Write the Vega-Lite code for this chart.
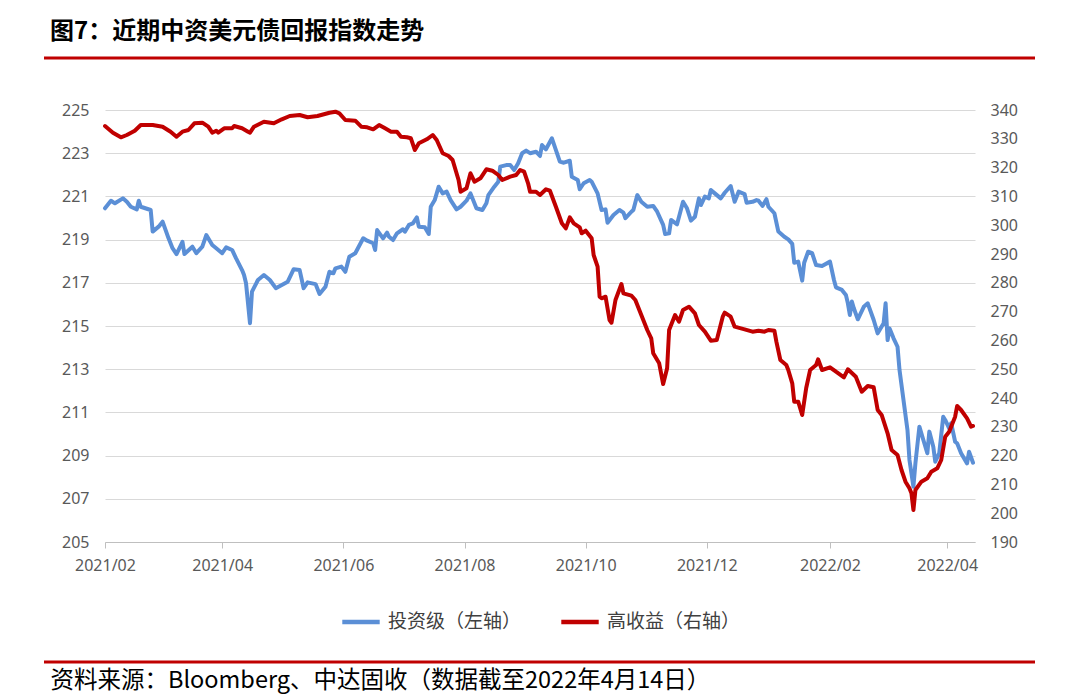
{
  "$schema": "https://vega.github.io/schema/vega-lite/v6.json",
  "width": 870,
  "height": 432,
  "autosize": "none",
  "padding": {"left": 105, "top": 110, "right": 105, "bottom": 154},
  "background": "#ffffff",
  "title": {
    "text": "图7：近期中资美元债回报指数走势",
    "anchor": "start",
    "frame": "group",
    "dx": -55,
    "offset": 13,
    "font": "Noto Sans CJK SC",
    "fontSize": 24,
    "fontWeight": "bold",
    "color": "#000000"
  },
  "datasets": {
    "ig": [
      {"d":"2021-02-01","v":220.45},{"d":"2021-02-04","v":220.80},{"d":"2021-02-06","v":220.68},{"d":"2021-02-10","v":220.91},{"d":"2021-02-12","v":220.75},{"d":"2021-02-14","v":220.52},{"d":"2021-02-17","v":220.40},{"d":"2021-02-18","v":220.80},{"d":"2021-02-19","v":220.52},{"d":"2021-02-24","v":220.37},{"d":"2021-02-25","v":219.37},{"d":"2021-02-28","v":219.60},
      {"d":"2021-03-02","v":219.83},{"d":"2021-03-05","v":219.06},{"d":"2021-03-07","v":218.60},{"d":"2021-03-09","v":218.33},{"d":"2021-03-12","v":218.90},{"d":"2021-03-13","v":218.33},{"d":"2021-03-17","v":218.67},{"d":"2021-03-19","v":218.37},{"d":"2021-03-22","v":218.67},{"d":"2021-03-24","v":219.21},{"d":"2021-03-27","v":218.75},{"d":"2021-03-29","v":218.60},
      {"d":"2021-04-01","v":218.37},{"d":"2021-04-03","v":218.64},{"d":"2021-04-06","v":218.52},{"d":"2021-04-08","v":218.13},{"d":"2021-04-11","v":217.59},{"d":"2021-04-12","v":217.36},{"d":"2021-04-13","v":216.98},{"d":"2021-04-15","v":215.13},{"d":"2021-04-16","v":216.59},{"d":"2021-04-19","v":217.13},{"d":"2021-04-22","v":217.36},{"d":"2021-04-25","v":217.13},{"d":"2021-04-28","v":216.75},
      {"d":"2021-05-01","v":216.90},{"d":"2021-05-04","v":217.05},{"d":"2021-05-07","v":217.63},{"d":"2021-05-10","v":217.59},{"d":"2021-05-12","v":216.75},{"d":"2021-05-14","v":217.02},{"d":"2021-05-18","v":216.94},{"d":"2021-05-20","v":216.48},{"d":"2021-05-23","v":216.82},{"d":"2021-05-25","v":217.51},{"d":"2021-05-27","v":217.44},{"d":"2021-05-28","v":217.67},{"d":"2021-05-31","v":217.75},
      {"d":"2021-06-02","v":217.51},{"d":"2021-06-04","v":218.21},{"d":"2021-06-07","v":218.37},{"d":"2021-06-11","v":219.06},{"d":"2021-06-13","v":218.95},{"d":"2021-06-16","v":218.83},{"d":"2021-06-17","v":218.52},{"d":"2021-06-18","v":219.44},{"d":"2021-06-21","v":219.06},{"d":"2021-06-23","v":219.32},{"d":"2021-06-24","v":219.13},{"d":"2021-06-26","v":218.98},{"d":"2021-06-28","v":219.29},
      {"d":"2021-07-01","v":219.48},{"d":"2021-07-02","v":219.37},{"d":"2021-07-04","v":219.68},{"d":"2021-07-06","v":219.75},{"d":"2021-07-08","v":220.03},{"d":"2021-07-09","v":219.60},{"d":"2021-07-12","v":219.57},{"d":"2021-07-14","v":219.26},{"d":"2021-07-15","v":220.52},{"d":"2021-07-17","v":220.83},{"d":"2021-07-19","v":221.45},{"d":"2021-07-21","v":221.14},{"d":"2021-07-23","v":221.22},{"d":"2021-07-25","v":220.83},{"d":"2021-07-28","v":220.40},{"d":"2021-07-30","v":220.52},
      {"d":"2021-08-02","v":220.80},{"d":"2021-08-04","v":221.14},{"d":"2021-08-07","v":220.45},{"d":"2021-08-10","v":220.37},{"d":"2021-08-12","v":220.68},{"d":"2021-08-13","v":221.06},{"d":"2021-08-16","v":221.45},{"d":"2021-08-18","v":221.68},{"d":"2021-08-19","v":222.38},{"d":"2021-08-22","v":222.45},{"d":"2021-08-24","v":222.45},{"d":"2021-08-26","v":222.22},{"d":"2021-08-28","v":222.53},{"d":"2021-08-30","v":223.00},
      {"d":"2021-09-01","v":223.12},{"d":"2021-09-03","v":223.00},{"d":"2021-09-06","v":223.07},{"d":"2021-09-08","v":222.87},{"d":"2021-09-09","v":223.38},{"d":"2021-09-11","v":223.18},{"d":"2021-09-14","v":223.69},{"d":"2021-09-18","v":222.61},{"d":"2021-09-20","v":222.56},{"d":"2021-09-23","v":222.65},{"d":"2021-09-24","v":221.91},{"d":"2021-09-27","v":221.76},{"d":"2021-09-28","v":221.33},{"d":"2021-09-30","v":221.61},
      {"d":"2021-10-03","v":221.76},{"d":"2021-10-04","v":221.68},{"d":"2021-10-07","v":221.14},{"d":"2021-10-09","v":220.37},{"d":"2021-10-11","v":220.40},{"d":"2021-10-12","v":219.78},{"d":"2021-10-15","v":220.14},{"d":"2021-10-18","v":220.37},{"d":"2021-10-20","v":220.25},{"d":"2021-10-21","v":219.99},{"d":"2021-10-24","v":220.29},{"d":"2021-10-25","v":220.37},{"d":"2021-10-27","v":221.06},{"d":"2021-10-29","v":220.75},
      {"d":"2021-11-01","v":220.52},{"d":"2021-11-04","v":220.56},{"d":"2021-11-06","v":220.29},{"d":"2021-11-09","v":219.68},{"d":"2021-11-10","v":219.26},{"d":"2021-11-12","v":219.29},{"d":"2021-11-13","v":219.91},{"d":"2021-11-16","v":219.71},{"d":"2021-11-19","v":220.75},{"d":"2021-11-21","v":220.45},{"d":"2021-11-23","v":219.88},{"d":"2021-11-25","v":220.06},{"d":"2021-11-27","v":220.91},{"d":"2021-11-28","v":220.60},{"d":"2021-11-30","v":220.99},
      {"d":"2021-12-02","v":220.91},{"d":"2021-12-03","v":221.30},{"d":"2021-12-05","v":221.14},{"d":"2021-12-08","v":220.91},{"d":"2021-12-10","v":221.17},{"d":"2021-12-13","v":221.48},{"d":"2021-12-15","v":220.75},{"d":"2021-12-17","v":221.22},{"d":"2021-12-20","v":221.11},{"d":"2021-12-21","v":220.71},{"d":"2021-12-24","v":220.75},{"d":"2021-12-26","v":220.83},{"d":"2021-12-27","v":220.80},{"d":"2021-12-29","v":220.56},{"d":"2021-12-31","v":220.87},
      {"d":"2022-01-01","v":220.52},{"d":"2022-01-04","v":220.22},{"d":"2022-01-06","v":219.37},{"d":"2022-01-09","v":219.13},{"d":"2022-01-11","v":219.01},{"d":"2022-01-13","v":218.80},{"d":"2022-01-14","v":217.93},{"d":"2022-01-16","v":217.98},{"d":"2022-01-18","v":217.10},{"d":"2022-01-19","v":217.93},{"d":"2022-01-21","v":218.44},{"d":"2022-01-23","v":218.37},{"d":"2022-01-25","v":217.82},{"d":"2022-01-28","v":217.78},
      {"d":"2022-02-01","v":217.98},{"d":"2022-02-03","v":217.13},{"d":"2022-02-04","v":216.79},{"d":"2022-02-07","v":216.67},{"d":"2022-02-09","v":216.44},{"d":"2022-02-10","v":216.05},{"d":"2022-02-11","v":215.51},{"d":"2022-02-12","v":216.13},{"d":"2022-02-13","v":215.82},{"d":"2022-02-15","v":215.31},{"d":"2022-02-18","v":215.89},{"d":"2022-02-20","v":216.05},{"d":"2022-02-23","v":215.28},{"d":"2022-02-25","v":214.66},{"d":"2022-02-28","v":215.13},
      {"d":"2022-03-01","v":216.05},{"d":"2022-03-02","v":214.35},{"d":"2022-03-03","v":214.89},{"d":"2022-03-05","v":214.43},{"d":"2022-03-07","v":214.04},{"d":"2022-03-08","v":212.96},{"d":"2022-03-10","v":211.57},{"d":"2022-03-12","v":210.19},{"d":"2022-03-13","v":208.80},{"d":"2022-03-15","v":207.56},{"d":"2022-03-16","v":208.64},{"d":"2022-03-18","v":210.34},{"d":"2022-03-20","v":209.72},{"d":"2022-03-22","v":209.11},{"d":"2022-03-23","v":210.11},{"d":"2022-03-25","v":209.41},{"d":"2022-03-26","v":208.72},{"d":"2022-03-28","v":209.11},{"d":"2022-03-30","v":210.80},{"d":"2022-03-31","v":210.65},
      {"d":"2022-04-02","v":210.26},{"d":"2022-04-03","v":210.50},{"d":"2022-04-05","v":209.64},{"d":"2022-04-06","v":209.57},{"d":"2022-04-08","v":209.11},{"d":"2022-04-11","v":208.64},{"d":"2022-04-12","v":209.18},{"d":"2022-04-14","v":208.67}
    ],
    "hy": [
      {"d":"2021-02-01","v":334.44},{"d":"2021-02-05","v":332.12},{"d":"2021-02-09","v":330.52},{"d":"2021-02-12","v":331.32},{"d":"2021-02-16","v":332.81},{"d":"2021-02-19","v":334.79},{"d":"2021-02-25","v":334.79},
      {"d":"2021-03-02","v":334.20},{"d":"2021-03-06","v":332.47},{"d":"2021-03-09","v":330.73},{"d":"2021-03-12","v":332.47},{"d":"2021-03-15","v":333.06},{"d":"2021-03-18","v":335.38},{"d":"2021-03-22","v":335.59},{"d":"2021-03-25","v":334.20},{"d":"2021-03-27","v":332.12},{"d":"2021-03-29","v":332.81},{"d":"2021-03-30","v":332.12},
      {"d":"2021-04-02","v":333.65},{"d":"2021-04-06","v":333.65},{"d":"2021-04-07","v":334.44},{"d":"2021-04-11","v":333.65},{"d":"2021-04-14","v":332.47},{"d":"2021-04-15","v":332.12},{"d":"2021-04-17","v":334.20},{"d":"2021-04-22","v":335.94},{"d":"2021-04-27","v":335.38},
      {"d":"2021-05-01","v":336.77},{"d":"2021-05-05","v":337.92},{"d":"2021-05-10","v":338.26},{"d":"2021-05-14","v":337.47},{"d":"2021-05-19","v":337.92},{"d":"2021-05-25","v":339.06},{"d":"2021-05-28","v":339.41},{"d":"2021-05-30","v":338.85},
      {"d":"2021-06-02","v":336.53},{"d":"2021-06-07","v":336.28},{"d":"2021-06-10","v":334.20},{"d":"2021-06-13","v":333.99},{"d":"2021-06-16","v":333.30},{"d":"2021-06-19","v":334.79},{"d":"2021-06-22","v":333.65},{"d":"2021-06-25","v":332.47},{"d":"2021-06-28","v":332.47},{"d":"2021-06-30","v":330.73},
      {"d":"2021-07-03","v":330.52},{"d":"2021-07-05","v":330.17},{"d":"2021-07-07","v":326.11},{"d":"2021-07-09","v":328.44},{"d":"2021-07-13","v":329.83},{"d":"2021-07-16","v":331.32},{"d":"2021-07-18","v":329.58},{"d":"2021-07-21","v":324.97},{"d":"2021-07-24","v":324.03},{"d":"2021-07-26","v":322.64},{"d":"2021-07-29","v":315.69},{"d":"2021-07-30","v":311.63},
      {"d":"2021-08-02","v":312.81},{"d":"2021-08-04","v":318.02},{"d":"2021-08-06","v":315.10},{"d":"2021-08-09","v":316.28},{"d":"2021-08-12","v":319.41},{"d":"2021-08-15","v":318.92},{"d":"2021-08-18","v":317.43},{"d":"2021-08-20","v":315.69},{"d":"2021-08-24","v":316.84},{"d":"2021-08-27","v":317.43},{"d":"2021-08-29","v":319.17},{"d":"2021-08-31","v":318.58},
      {"d":"2021-09-02","v":314.55},{"d":"2021-09-03","v":311.63},{"d":"2021-09-06","v":311.63},{"d":"2021-09-08","v":310.49},{"d":"2021-09-11","v":312.47},{"d":"2021-09-13","v":311.98},{"d":"2021-09-16","v":306.42},{"d":"2021-09-19","v":300.66},{"d":"2021-09-21","v":298.92},{"d":"2021-09-23","v":302.74},{"d":"2021-09-25","v":300.66},{"d":"2021-09-28","v":299.27},{"d":"2021-09-29","v":297.19},
      {"d":"2021-10-01","v":298.09},{"d":"2021-10-04","v":295.45},{"d":"2021-10-05","v":289.65},{"d":"2021-10-07","v":285.59},{"d":"2021-10-08","v":275.17},{"d":"2021-10-09","v":274.62},{"d":"2021-10-11","v":275.17},{"d":"2021-10-13","v":267.08},{"d":"2021-10-14","v":266.15},{"d":"2021-10-16","v":274.03},{"d":"2021-10-19","v":279.58},{"d":"2021-10-20","v":276.35},{"d":"2021-10-24","v":275.52},{"d":"2021-10-26","v":274.03},{"d":"2021-10-29","v":268.82},
      {"d":"2021-11-01","v":263.61},{"d":"2021-11-03","v":260.73},{"d":"2021-11-04","v":255.52},{"d":"2021-11-07","v":252.05},{"d":"2021-11-09","v":244.86},{"d":"2021-11-11","v":250.31},{"d":"2021-11-12","v":263.61},{"d":"2021-11-15","v":268.82},{"d":"2021-11-17","v":266.49},{"d":"2021-11-19","v":270.56},{"d":"2021-11-22","v":271.70},{"d":"2021-11-25","v":269.41},{"d":"2021-11-27","v":265.35},{"d":"2021-11-30","v":263.02},
      {"d":"2021-12-03","v":259.90},{"d":"2021-12-06","v":260.14},{"d":"2021-12-09","v":268.23},{"d":"2021-12-10","v":269.62},{"d":"2021-12-13","v":268.23},{"d":"2021-12-15","v":264.76},{"d":"2021-12-20","v":263.85},{"d":"2021-12-24","v":263.02},{"d":"2021-12-27","v":263.37},{"d":"2021-12-30","v":263.02},
      {"d":"2022-01-01","v":263.61},{"d":"2022-01-04","v":263.37},{"d":"2022-01-05","v":259.55},{"d":"2022-01-07","v":253.19},{"d":"2022-01-10","v":251.46},{"d":"2022-01-11","v":249.72},{"d":"2022-01-13","v":245.10},{"d":"2022-01-14","v":238.72},{"d":"2022-01-16","v":238.72},{"d":"2022-01-18","v":234.10},{"d":"2022-01-20","v":243.37},{"d":"2022-01-22","v":249.72},{"d":"2022-01-25","v":251.46},{"d":"2022-01-26","v":253.44},{"d":"2022-01-28","v":249.72},
      {"d":"2022-02-01","v":250.66},{"d":"2022-02-04","v":249.13},{"d":"2022-02-08","v":247.19},{"d":"2022-02-10","v":249.97},{"d":"2022-02-14","v":247.40},{"d":"2022-02-17","v":242.19},{"d":"2022-02-20","v":244.17},{"d":"2022-02-23","v":243.72},{"d":"2022-02-25","v":235.83},{"d":"2022-02-27","v":234.10},
      {"d":"2022-03-02","v":227.74},{"d":"2022-03-04","v":221.94},{"d":"2022-03-07","v":220.21},{"d":"2022-03-09","v":215.00},{"d":"2022-03-11","v":210.94},{"d":"2022-03-13","v":208.65},{"d":"2022-03-14","v":206.91},{"d":"2022-03-15","v":201.11},{"d":"2022-03-16","v":208.06},{"d":"2022-03-19","v":210.94},{"d":"2022-03-22","v":212.12},{"d":"2022-03-24","v":214.41},{"d":"2022-03-27","v":215.59},{"d":"2022-03-29","v":218.47},{"d":"2022-03-31","v":226.56},
      {"d":"2022-04-02","v":228.30},{"d":"2022-04-05","v":233.51},{"d":"2022-04-06","v":237.22},{"d":"2022-04-08","v":235.83},{"d":"2022-04-11","v":232.95},{"d":"2022-04-13","v":230.03},{"d":"2022-04-14","v":230.28}
    ]
  },
  "layer": [
    {
      "data": {"name": "ig"},
      "mark": {"type": "line", "strokeWidth": 4, "strokeJoin": "round", "strokeCap": "round"},
      "encoding": {
        "x": {
          "field": "d", "type": "temporal", "timeUnit": "utcyearmonthdate",
          "scale": {"domain": [{"year": 2021, "month": 2, "date": 1, "utc": true}, {"year": 2022, "month": 4, "date": 15, "utc": true}]},
          "axis": {
            "values": [
              {"year": 2021, "month": 2, "date": 1, "utc": true},
              {"year": 2021, "month": 4, "date": 1, "utc": true},
              {"year": 2021, "month": 6, "date": 1, "utc": true},
              {"year": 2021, "month": 8, "date": 1, "utc": true},
              {"year": 2021, "month": 10, "date": 1, "utc": true},
              {"year": 2021, "month": 12, "date": 1, "utc": true},
              {"year": 2022, "month": 2, "date": 1, "utc": true},
              {"year": 2022, "month": 4, "date": 1, "utc": true}
            ],
            "format": "%Y/%m",
            "grid": false,
            "domainColor": "#bfbfbf",
            "domainWidth": 1,
            "tickColor": "#bfbfbf",
            "tickSize": 6,
            "labelPadding": 9,
            "labelFlush": false,
            "labelOverlap": false,
            "labelFont": "Noto Sans",
            "labelFontSize": 16,
            "labelColor": "#595959",
            "title": "资料来源：Bloomberg、中达固收（数据截至2022年4月14日）",
            "titleX": -55,
            "titleY": 138,
            "titleAlign": "left",
            "titleBaseline": "middle",
            "titleFont": "Noto Sans CJK SC",
            "titleFontSize": 23.5,
            "titleFontWeight": "normal",
            "titleColor": "#000000"
          }
        },
        "y": {
          "field": "v", "type": "quantitative",
          "scale": {"domain": [205, 225], "zero": false, "nice": false},
          "axis": {
            "values": [205, 207, 209, 211, 213, 215, 217, 219, 221, 223, 225],
            "orient": "left",
            "title": null,
            "grid": true,
            "gridColor": "#d9d9d9",
            "gridWidth": 1,
            "domain": false,
            "ticks": false,
            "labelPadding": 16,
            "labelFont": "Noto Sans",
            "labelFontSize": 16,
            "labelColor": "#595959"
          }
        },
        "color": {
          "datum": "投资级（左轴）",
          "scale": {"domain": ["投资级（左轴）", "高收益（右轴）"], "range": ["#5B8FD6", "#C00000"]},
          "legend": {
            "orient": "none",
            "legendX": 235,
            "legendY": 491,
            "direction": "horizontal",
            "title": null,
            "symbolType": "stroke",
            "symbolSize": 1400,
            "symbolStrokeWidth": 4.5,
            "labelFont": "Noto Sans CJK SC",
            "labelFontSize": 19,
            "labelColor": "#404040",
            "labelOffset": 6,
            "columnPadding": 30
          }
        }
      }
    },
    {
      "data": {"name": "hy"},
      "mark": {"type": "line", "strokeWidth": 4, "strokeJoin": "round", "strokeCap": "round"},
      "encoding": {
        "x": {
          "field": "d", "type": "temporal", "timeUnit": "utcyearmonthdate"
        },
        "y": {
          "field": "v", "type": "quantitative",
          "scale": {"domain": [190, 340], "zero": false, "nice": false},
          "axis": {
            "values": [190, 200, 210, 220, 230, 240, 250, 260, 270, 280, 290, 300, 310, 320, 330, 340],
            "orient": "right",
            "title": null,
            "grid": false,
            "domain": false,
            "ticks": false,
            "labelPadding": 15,
            "labelFont": "Noto Sans",
            "labelFontSize": 16,
            "labelColor": "#595959"
          }
        },
        "color": {"datum": "高收益（右轴）"}
      }
    },
    {
      "data": {"values": [{}]},
      "mark": {"type": "rule", "color": "#C00000", "strokeWidth": 3},
      "encoding": {"x": {"value": -61}, "x2": {"value": 930}, "y": {"value": -52}}
    },
    {
      "data": {"values": [{}]},
      "mark": {"type": "rule", "color": "#C00000", "strokeWidth": 3},
      "encoding": {"x": {"value": -61}, "x2": {"value": 930}, "y": {"value": 552}}
    }
  ],
  "resolve": {"scale": {"y": "independent"}},
  "config": {"view": {"stroke": null}}
}
